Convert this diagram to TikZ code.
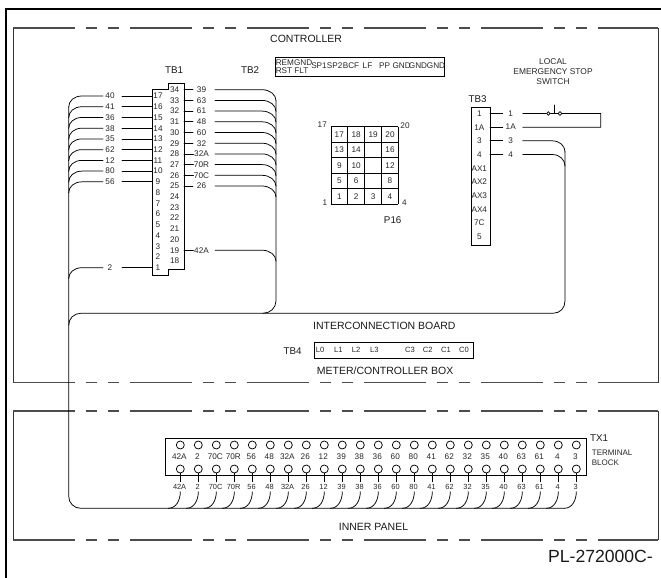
\documentclass[tikz,border=0pt]{standalone}
\usepackage{fontspec}
\setmainfont{Liberation Sans}
\newcommand{\szA}{\fontsize{8.2}{9}\selectfont}
\newcommand{\szB}{\fontsize{10.5}{11}\selectfont}
\newcommand{\szT}{\fontsize{9.8}{11}\selectfont}
\newcommand{\szC}{\fontsize{7.6}{8}\selectfont}
\newcommand{\szS}{\fontsize{8.2}{9}\selectfont}
\tikzset{
 wire/.style={line width=0.75pt,line cap=round},
 frameline/.style={line width=1pt,draw=black!80},
 dashline/.style={line width=1.1pt,draw=black!70,dash pattern=on 62pt off 11pt on 11pt off 11pt on 11pt off 11pt},
 box/.style={line width=0.8pt,draw=black},
 lab/.style={inner sep=0pt,text=black!85,font=\szA},
 title/.style={inner sep=0pt,text=black!90,font=\szB},
 tbtitle/.style={inner sep=0pt,text=black!90,font=\szT},
 small/.style={inner sep=0pt,text=black!85,font=\szC},
 strip/.style={inner sep=0pt,text=black!85,font=\szS},
 term/.style={circle,draw=black,line width=0.75pt,minimum size=8pt,inner sep=0pt},
 swdot/.style={circle,draw=black,line width=0.7pt,minimum size=3.6pt,inner sep=0pt}
}
\begin{document}
\begin{tikzpicture}[x=1pt,y=-1pt]
\useasboundingbox (0,0) rectangle (661,578);
% sheet border
\draw[line width=2.2pt,black] (6,578) -- (6,9) -- (661,9);
% panels
\draw[frameline] (13,28) -- (13,382.5);
\draw[frameline] (658,28) -- (658,382.5);
\draw[dashline] (13,28) -- (658,28);
\draw[dashline] (13,382.5) -- (658,382.5);
\draw[frameline] (13,411) -- (13,540);
\draw[frameline] (658,411) -- (658,540);
\draw[dashline] (13,411) -- (658,411);
\draw[dashline] (13,540) -- (658,540);
% titles
\node[title,anchor=west] (tCtrl) at (270,38.5) {CONTROLLER};
\node[tbtitle] (tTB1) at (174,70) {TB1};
\node[tbtitle] (tTB2) at (250,70) {TB2};
\node[tbtitle] (tTB3) at (477.7,99) {TB3};
\node[tbtitle] (tTB4) at (292.5,351) {TB4};
\node[tbtitle] (tP16) at (392.7,220.5) {P16};
\node[title,anchor=west] (tIB) at (313,325.7) {INTERCONNECTION BOARD};
\node[title,anchor=west] (tMC) at (316.7,371) {METER/CONTROLLER BOX};
\node[title] (tIP) at (373.5,527) {INNER PANEL};
\node[tbtitle,anchor=west] (tTX1) at (590,438.5) {TX1};
\node[inner sep=0pt,font=\fontsize{8}{9.5}\selectfont,align=left,anchor=west,text=black!85] (tTB) at (591.7,458) {TERMINAL\\BLOCK};
\node[inner sep=0pt,font=\fontsize{8.4}{10}\selectfont,align=center,text=black!85] (tSw) at (553,71.7) {LOCAL\\EMERGENCY STOP\\SWITCH};
\node[inner sep=0pt,anchor=east,font=\fontsize{17.6}{19}\selectfont,text=black!90] (tPL) at (653,556) {PL-272000C-};
% TB2 connector strip
\node[box,minimum width=169.6pt,minimum height=19.6pt,inner sep=0pt,anchor=north west] (stripbox) at (274.7,56.7) {};
\node[strip,anchor=west] (s1) at (275.6,62.4) {REMGND};
\node[strip,anchor=west] (s2) at (275.6,70.4) {RST FLT};
\foreach \t/\xx in {SP1/319,SP2/334.7,BCF/351,LF/367.5,PP/384.5,GND/401.7,GND/418,GND/436}
  \node[strip] at (\xx,66) {\t};
% TB1
\draw[box] (152,89.5) -- (168.2,89.5) -- (168.2,83.7) -- (184,83.7) -- (184,269) -- (168.2,269) -- (168.2,275) -- (152,275) -- cycle;
\foreach \r in {1,...,17}{
  \pgfmathsetmacro{\yy}{96+(17-\r)*10.73}
  \node[lab] (pL\r) at (158,\yy) {\r};
  \coordinate (eL\r) at (152,\yy);
}
\foreach \r in {18,...,34}{
  \pgfmathsetmacro{\yy}{89.7+(34-\r)*10.7}
  \node[lab] (pR\r) at (174.7,\yy) {\r};
  \coordinate (eR\r) at (184,\yy);
}
% left-hand wires of TB1
\foreach \t/\r in {40/17,41/16,36/15,38/14,35/13,62/12,12/11,80/10,56/9,2/1}{
  \pgfmathsetmacro{\yy}{96+(17-\r)*10.73}
  \node[lab] (nL\r) at (110,\yy) {\t};
  \coordinate (aL\r) at (122,\yy);
  \coordinate (bL\r) at (103,\yy);
  \draw[wire] (eL\r) -- (aL\r);
  \draw[wire] (bL\r) -- (82,\yy) .. controls (74,\yy) and (68.7,\yy+5) .. (68.7,\yy+11);
}
% right-hand wires of TB1
\foreach \t/\r/\g in {39/34/193,63/33/193,61/32/193,48/31/193,60/30/193,32/29/193,32A/28/193.5,70R/27/193.5,70C/26/193.5,26/25/193,42A/19/193.5}{
  \pgfmathsetmacro{\yy}{89.7+(34-\r)*10.7}
  \node[lab] (nR\r) at (201.5,\yy) {\t};
  \coordinate (aR\r) at (\g,\yy);
  \coordinate (bR\r) at (215,\yy);
  \draw[wire] (eR\r) -- (aR\r);
  \draw[wire] (bR\r) -- (262,\yy) .. controls (270,\yy) and (276,\yy+5) .. (276,\yy+11);
}
% trunks
\coordinate (trA) at (68.7,107);
\coordinate (trB) at (276,100.7);
\coordinate (trC) at (565,151.7);
\coordinate (busL) at (80.7,313.3);
\coordinate (busR) at (553,313.3);
\coordinate (botL) at (80.7,508.3);
\coordinate (botR) at (564.3,508.3);
\draw[wire] (trA) -- (68.7,496.3) .. controls (68.7,503) and (74,508.3) .. (botL) -- (botR);
\draw[wire] (trB) -- (276,301) .. controls (276,308) and (270,313.3) .. (263,313.3);
\draw[wire] (68.7,325.3) .. controls (68.7,318.5) and (74,313.3) .. (busL) -- (busR) .. controls (560,313.3) and (565,308) .. (565,301) -- (trC);
% P16
\foreach \xx in {331,347.7,364.7,381.7,398.3} \draw[box] (\xx,126.7) -- (\xx,204.3);
\foreach \yy in {126.7,142,157.7,173.3,188.7,204.3} \draw[box] (331,\yy) -- (398.3,\yy);
\foreach \t/\xx/\yy in {17/339.3/134.5,18/356.2/134.5,19/373.2/134.5,20/390/134.5,
  13/339.3/150,14/356.2/150,16/390/150,
  9/339.3/165.5,10/356.2/165.5,12/390/165.5,
  5/339.3/181,6/356.2/181,8/390/181,
  1/339.3/196.5,2/356.2/196.5,3/373.2/196.5,4/390/196.5,
  17/322.3/125,20/405/125.7,1/325/202.7,4/404.3/202.7}
  \node[lab] at (\xx,\yy) {\t};
% TB3
\node[box,minimum width=19.3pt,minimum height=138.3pt,inner sep=0pt,anchor=north west] (tb3) at (470.7,106.7) {};
\foreach \t [count=\i from 0] in {1,1A,3,4,AX1,AX2,AX3,AX4,7C,5}{
  \pgfmathsetmacro{\yy}{113.7+\i*13.67}
  \node[lab] (p3\i) at (479.3,\yy) {\t};
}
\foreach \t/\i in {1/0,1A/1,3/2,4/3}{
  \pgfmathsetmacro{\yy}{113.5+\i*13.67}
  \node[lab] (n3\i) at (510.7,\yy) {\t};
  \coordinate (e3\i) at (490,\yy);
  \coordinate (a3\i) at (502.7,\yy);
  \coordinate (b3\i) at (522.7,\yy);
  \draw[wire] (e3\i) -- (a3\i);
}
\coordinate (swEnd) at (600.7,113.5);
\coordinate (swEndB) at (600.7,127.2);
\node[swdot] (swA) at (548.3,113.5) {};
\node[swdot] (swB) at (560,113.5) {};
\coordinate (swT) at (554,105);
\coordinate (swM) at (554,113.5);
\draw[wire] (b30) -- (swA);
\draw[wire] (swB) -- (swEnd) -- (swEndB) -- (b31);
\draw[wire] (swA) -- (swB);
\draw[wire] (swM) -- (swT);
\draw[wire] (b32) -- (552,140.8) .. controls (560,140.8) and (565,146) .. (565,152);
\draw[wire] (b33) -- (552,154.5) .. controls (560,154.5) and (565,160) .. (565,166);
% TB4
\node[box,minimum width=159pt,minimum height=16pt,inner sep=0pt,anchor=north west] (tb4) at (314.3,342.3) {};
\foreach \t/\xx in {L0/320,L1/338.3,L2/356,L3/374.3,C3/410,C2/427.7,C1/446,C0/464}
  \node[small] at (\xx,350.2) {\t};
% TX1
\node[box,minimum width=420.7pt,minimum height=36.7pt,inner sep=0pt,anchor=north west] (tx1) at (165.3,438.3) {};
\foreach \t [count=\i from 0] in {42A,2,70C,70R,56,48,32A,26,12,39,38,36,60,80,41,62,32,35,40,63,61,4,3}{
  \pgfmathsetmacro{\xx}{180.3+\i*18}
  \node[term] (up\i) at (\xx,445) {};
  \node[term] (dn\i) at (\xx,469) {};
  \node[lab] (m\i) at (\xx-1,456.7) {\t};
  \node[small,font=\fontsize{7.4}{8}\selectfont] (o\i) at (\xx-0.7,486.5) {\t};
  \coordinate (st\i) at (\xx,481.7);
  \coordinate (lo\i) at (\xx,491.7);
  \draw[wire] (dn\i) -- (st\i);
  \draw[wire] (lo\i) .. controls (\xx,500) and (\xx-4,508.3) .. (\xx-12,508.3);
}
\end{tikzpicture}
\end{document}
